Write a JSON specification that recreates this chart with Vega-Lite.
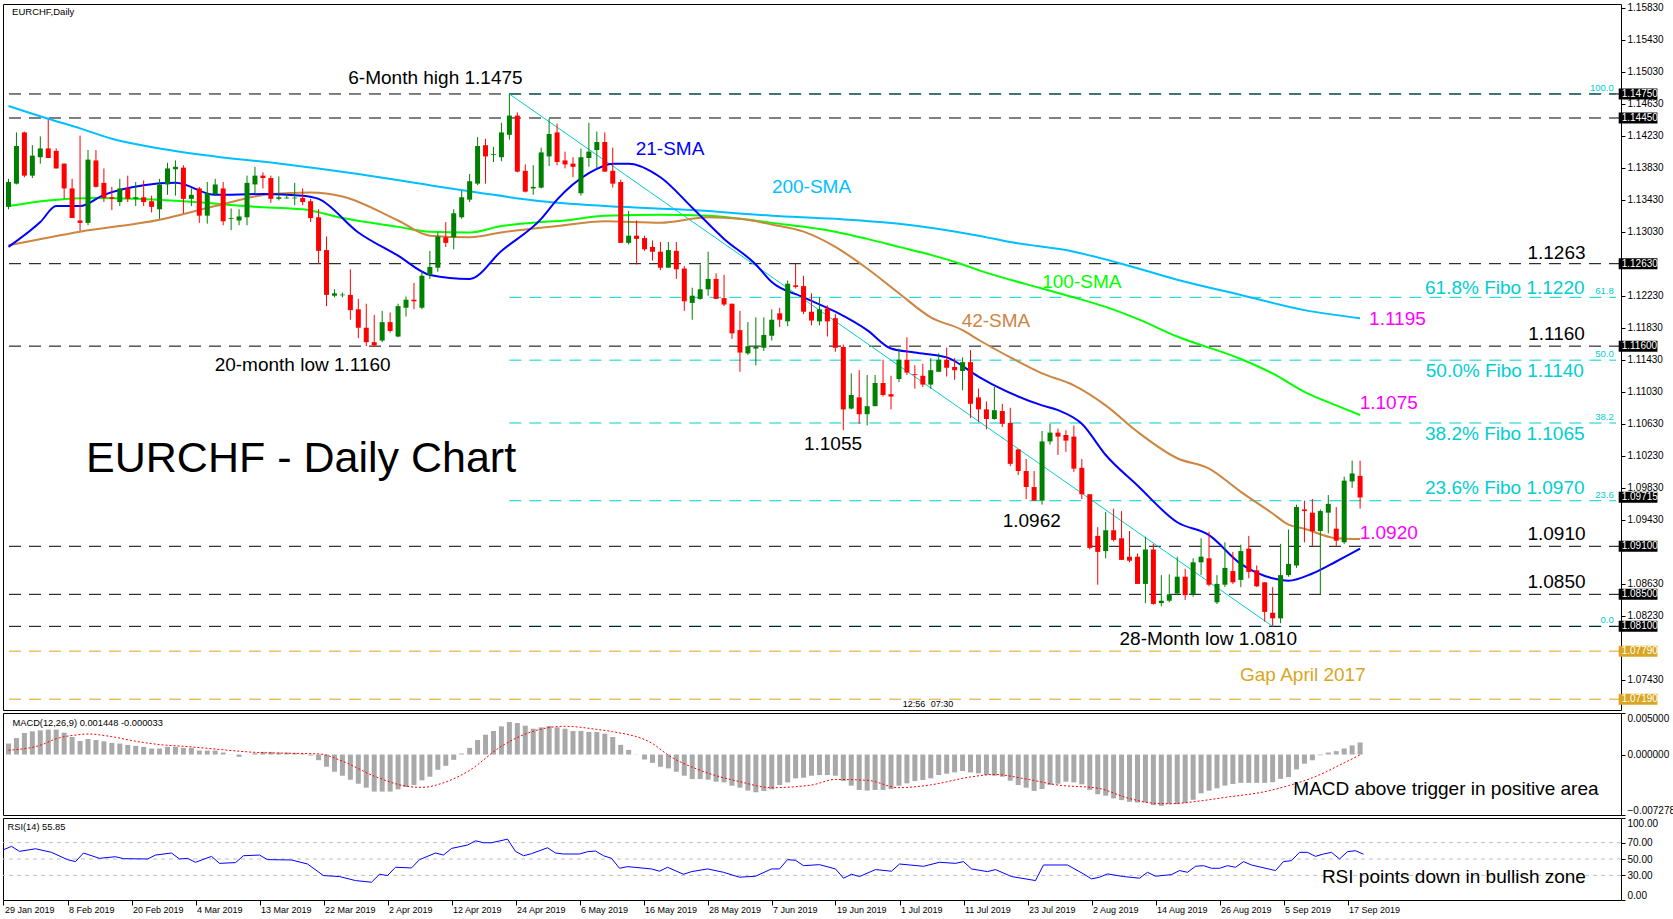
{
"$schema": "https://vega.github.io/schema/vega-lite/v6.json",
"background": "#ffffff",
"padding": {"left": 2, "top": 2, "right": 0, "bottom": 0},
"spacing": 3,
"bounds": "flush",
"config": {
  "view": {"stroke": "#000000", "strokeWidth": 1},
  "font": "Liberation Sans",
  "axis": {"labelFont": "Liberation Sans", "labelColor": "#000000", "tickColor": "#000000", "domain": false, "grid": false}
},
"datasets": {
"c": [
{"i":0,"o":1.1334,"h":1.1369,"l":1.1331,"c":1.1365},
{"i":1,"o":1.1363,"h":1.1427,"l":1.1362,"c":1.1410},
{"i":2,"o":1.1427,"h":1.1428,"l":1.1371,"c":1.1373},
{"i":3,"o":1.1373,"h":1.1411,"l":1.1370,"c":1.1398},
{"i":4,"o":1.1396,"h":1.1422,"l":1.1388,"c":1.1407},
{"i":5,"o":1.1407,"h":1.1443,"l":1.1395,"c":1.1395},
{"i":6,"o":1.1404,"h":1.1407,"l":1.1382,"c":1.1382},
{"i":7,"o":1.1388,"h":1.1388,"l":1.1344,"c":1.1357},
{"i":8,"o":1.1357,"h":1.1369,"l":1.1320,"c":1.1320},
{"i":9,"o":1.1317,"h":1.1423,"l":1.1304,"c":1.1314},
{"i":10,"o":1.1314,"h":1.1405,"l":1.1311,"c":1.1393},
{"i":11,"o":1.1392,"h":1.1405,"l":1.1358,"c":1.1359},
{"i":12,"o":1.1364,"h":1.1382,"l":1.1340,"c":1.1345},
{"i":13,"o":1.1346,"h":1.1359,"l":1.1330,"c":1.1344},
{"i":14,"o":1.1340,"h":1.1369,"l":1.1335,"c":1.1357},
{"i":15,"o":1.1357,"h":1.1373,"l":1.1340,"c":1.1344},
{"i":16,"o":1.1344,"h":1.1365,"l":1.1335,"c":1.1346},
{"i":17,"o":1.1346,"h":1.1367,"l":1.1335,"c":1.1340},
{"i":18,"o":1.1341,"h":1.1348,"l":1.1327,"c":1.1334},
{"i":19,"o":1.1331,"h":1.1369,"l":1.1319,"c":1.1362},
{"i":20,"o":1.1362,"h":1.1389,"l":1.1349,"c":1.1382},
{"i":21,"o":1.1381,"h":1.1392,"l":1.1348,"c":1.1384},
{"i":22,"o":1.1383,"h":1.1386,"l":1.1326,"c":1.1344},
{"i":23,"o":1.1344,"h":1.1357,"l":1.1335,"c":1.1349},
{"i":24,"o":1.1357,"h":1.1359,"l":1.1314,"c":1.1323},
{"i":25,"o":1.1323,"h":1.1365,"l":1.1313,"c":1.1351},
{"i":26,"o":1.1350,"h":1.1369,"l":1.1348,"c":1.1362},
{"i":27,"o":1.1357,"h":1.1365,"l":1.1311,"c":1.1316},
{"i":28,"o":1.1319,"h":1.1332,"l":1.1305,"c":1.1320},
{"i":29,"o":1.1317,"h":1.1331,"l":1.1311,"c":1.1322},
{"i":30,"o":1.1321,"h":1.1373,"l":1.1311,"c":1.1364},
{"i":31,"o":1.1362,"h":1.1384,"l":1.1351,"c":1.1373},
{"i":32,"o":1.1373,"h":1.1377,"l":1.1357,"c":1.1370},
{"i":33,"o":1.1370,"h":1.1373,"l":1.1339,"c":1.1344},
{"i":34,"o":1.1344,"h":1.1372,"l":1.1342,"c":1.1346},
{"i":35,"o":1.1345,"h":1.1350,"l":1.1344,"c":1.1345},
{"i":36,"o":1.1345,"h":1.1364,"l":1.1336,"c":1.1345},
{"i":37,"o":1.1345,"h":1.1357,"l":1.1336,"c":1.1340},
{"i":38,"o":1.1341,"h":1.1344,"l":1.1315,"c":1.1320},
{"i":39,"o":1.1321,"h":1.1331,"l":1.1263,"c":1.1279},
{"i":40,"o":1.1280,"h":1.1297,"l":1.1210,"c":1.1224},
{"i":41,"o":1.1223,"h":1.1231,"l":1.1221,"c":1.1226},
{"i":42,"o":1.1224,"h":1.1227,"l":1.1221,"c":1.1224},
{"i":43,"o":1.1224,"h":1.1256,"l":1.1193,"c":1.1205},
{"i":44,"o":1.1206,"h":1.1219,"l":1.1170,"c":1.1183},
{"i":45,"o":1.1183,"h":1.1213,"l":1.1160,"c":1.1165},
{"i":46,"o":1.1165,"h":1.1199,"l":1.1159,"c":1.1161},
{"i":47,"o":1.1167,"h":1.1204,"l":1.1165,"c":1.1190},
{"i":48,"o":1.1190,"h":1.1202,"l":1.1177,"c":1.1179},
{"i":49,"o":1.1172,"h":1.1213,"l":1.1171,"c":1.1210},
{"i":50,"o":1.1208,"h":1.1222,"l":1.1197,"c":1.1218},
{"i":51,"o":1.1218,"h":1.1239,"l":1.1206,"c":1.1216},
{"i":52,"o":1.1208,"h":1.1254,"l":1.1206,"c":1.1248},
{"i":53,"o":1.1249,"h":1.1279,"l":1.1244,"c":1.1259},
{"i":54,"o":1.1258,"h":1.1302,"l":1.1253,"c":1.1297},
{"i":55,"o":1.1296,"h":1.1315,"l":1.1284,"c":1.1289},
{"i":56,"o":1.1296,"h":1.1331,"l":1.1281,"c":1.1326},
{"i":57,"o":1.1321,"h":1.1354,"l":1.1319,"c":1.1346},
{"i":58,"o":1.1343,"h":1.1375,"l":1.1340,"c":1.1366},
{"i":59,"o":1.1363,"h":1.1421,"l":1.1361,"c":1.1410},
{"i":60,"o":1.1411,"h":1.1419,"l":1.1363,"c":1.1397},
{"i":61,"o":1.1399,"h":1.1409,"l":1.1390,"c":1.1400},
{"i":62,"o":1.1396,"h":1.1439,"l":1.1391,"c":1.1427},
{"i":63,"o":1.1424,"h":1.1475,"l":1.1418,"c":1.1448},
{"i":64,"o":1.1448,"h":1.1452,"l":1.1377,"c":1.1378},
{"i":65,"o":1.1379,"h":1.1387,"l":1.1352,"c":1.1353},
{"i":66,"o":1.1357,"h":1.1386,"l":1.1349,"c":1.1359},
{"i":67,"o":1.1358,"h":1.1408,"l":1.1357,"c":1.1402},
{"i":68,"o":1.1397,"h":1.1444,"l":1.1385,"c":1.1425},
{"i":69,"o":1.1427,"h":1.1438,"l":1.1386,"c":1.1390},
{"i":70,"o":1.1392,"h":1.1403,"l":1.1382,"c":1.1387},
{"i":71,"o":1.1388,"h":1.1396,"l":1.1371,"c":1.1384},
{"i":72,"o":1.1351,"h":1.1407,"l":1.1348,"c":1.1396},
{"i":73,"o":1.1395,"h":1.1439,"l":1.1384,"c":1.1403},
{"i":74,"o":1.1405,"h":1.1428,"l":1.1382,"c":1.1415},
{"i":75,"o":1.1415,"h":1.1427,"l":1.1378,"c":1.1378},
{"i":76,"o":1.1379,"h":1.1408,"l":1.1358,"c":1.1363},
{"i":77,"o":1.1365,"h":1.1368,"l":1.1289,"c":1.1289},
{"i":78,"o":1.1289,"h":1.1329,"l":1.1287,"c":1.1298},
{"i":79,"o":1.1298,"h":1.1317,"l":1.1262,"c":1.1294},
{"i":80,"o":1.1295,"h":1.1298,"l":1.1279,"c":1.1281},
{"i":81,"o":1.1284,"h":1.1292,"l":1.1267,"c":1.1278},
{"i":82,"o":1.1278,"h":1.1290,"l":1.1255,"c":1.1258},
{"i":83,"o":1.1258,"h":1.1290,"l":1.1258,"c":1.1280},
{"i":84,"o":1.1279,"h":1.1290,"l":1.1244,"c":1.1256},
{"i":85,"o":1.1257,"h":1.1260,"l":1.1204,"c":1.1216},
{"i":86,"o":1.1214,"h":1.1233,"l":1.1193,"c":1.1223},
{"i":87,"o":1.1219,"h":1.1262,"l":1.1218,"c":1.1231},
{"i":88,"o":1.1231,"h":1.1278,"l":1.1223,"c":1.1244},
{"i":89,"o":1.1244,"h":1.1251,"l":1.1219,"c":1.1219},
{"i":90,"o":1.1220,"h":1.1249,"l":1.1210,"c":1.1212},
{"i":91,"o":1.1213,"h":1.1213,"l":1.1169,"c":1.1176},
{"i":92,"o":1.1180,"h":1.1204,"l":1.1128,"c":1.1152},
{"i":93,"o":1.1151,"h":1.1190,"l":1.1149,"c":1.1160},
{"i":94,"o":1.1157,"h":1.1196,"l":1.1136,"c":1.1159},
{"i":95,"o":1.1158,"h":1.1196,"l":1.1154,"c":1.1174},
{"i":96,"o":1.1173,"h":1.1206,"l":1.1167,"c":1.1193},
{"i":97,"o":1.1201,"h":1.1208,"l":1.1184,"c":1.1193},
{"i":98,"o":1.1191,"h":1.1242,"l":1.1185,"c":1.1238},
{"i":99,"o":1.1236,"h":1.1263,"l":1.1232,"c":1.1234},
{"i":100,"o":1.1235,"h":1.1248,"l":1.1200,"c":1.1203},
{"i":101,"o":1.1203,"h":1.1226,"l":1.1186,"c":1.1192},
{"i":102,"o":1.1191,"h":1.1221,"l":1.1186,"c":1.1206},
{"i":103,"o":1.1207,"h":1.1211,"l":1.1172,"c":1.1191},
{"i":104,"o":1.1195,"h":1.1200,"l":1.1153,"c":1.1158},
{"i":105,"o":1.1159,"h":1.1162,"l":1.1055,"c":1.1081},
{"i":106,"o":1.1082,"h":1.1126,"l":1.1081,"c":1.1099},
{"i":107,"o":1.1096,"h":1.1130,"l":1.1063,"c":1.1075},
{"i":108,"o":1.1075,"h":1.1124,"l":1.1061,"c":1.1085},
{"i":109,"o":1.1085,"h":1.1124,"l":1.1085,"c":1.1114},
{"i":110,"o":1.1114,"h":1.1143,"l":1.1097,"c":1.1099},
{"i":111,"o":1.1100,"h":1.1123,"l":1.1081,"c":1.1097},
{"i":112,"o":1.1119,"h":1.1157,"l":1.1115,"c":1.1143},
{"i":113,"o":1.1143,"h":1.1171,"l":1.1124,"c":1.1127},
{"i":114,"o":1.1125,"h":1.1136,"l":1.1107,"c":1.1124},
{"i":115,"o":1.1123,"h":1.1138,"l":1.1109,"c":1.1112},
{"i":116,"o":1.1112,"h":1.1145,"l":1.1107,"c":1.1130},
{"i":117,"o":1.1128,"h":1.1151,"l":1.1128,"c":1.1143},
{"i":118,"o":1.1143,"h":1.1158,"l":1.1122,"c":1.1133},
{"i":119,"o":1.1134,"h":1.1145,"l":1.1118,"c":1.1130},
{"i":120,"o":1.1129,"h":1.1146,"l":1.1105,"c":1.1140},
{"i":121,"o":1.1140,"h":1.1155,"l":1.1070,"c":1.1088},
{"i":122,"o":1.1096,"h":1.1107,"l":1.1065,"c":1.1081},
{"i":123,"o":1.1081,"h":1.1091,"l":1.1056,"c":1.1069},
{"i":124,"o":1.1069,"h":1.1109,"l":1.1068,"c":1.1080},
{"i":125,"o":1.1079,"h":1.1088,"l":1.1059,"c":1.1063},
{"i":126,"o":1.1064,"h":1.1083,"l":1.1010,"c":1.1013},
{"i":127,"o":1.1031,"h":1.1031,"l":1.0999,"c":1.1004},
{"i":128,"o":1.1004,"h":1.1019,"l":1.0969,"c":1.0984},
{"i":129,"o":1.0984,"h":1.1004,"l":1.0967,"c":1.0967},
{"i":130,"o":1.0967,"h":1.1054,"l":1.0962,"c":1.1041},
{"i":131,"o":1.1041,"h":1.1063,"l":1.1037,"c":1.1052},
{"i":132,"o":1.1052,"h":1.1057,"l":1.1024,"c":1.1047},
{"i":133,"o":1.1049,"h":1.1055,"l":1.1028,"c":1.1042},
{"i":134,"o":1.1047,"h":1.1061,"l":1.1003,"c":1.1007},
{"i":135,"o":1.1008,"h":1.1019,"l":1.0969,"c":1.0975},
{"i":136,"o":1.0975,"h":1.0975,"l":1.0906,"c":1.0908},
{"i":137,"o":1.0923,"h":1.0934,"l":1.0862,"c":1.0903},
{"i":138,"o":1.0904,"h":1.0953,"l":1.0895,"c":1.0930},
{"i":139,"o":1.0930,"h":1.0957,"l":1.0916,"c":1.0918},
{"i":140,"o":1.0920,"h":1.0954,"l":1.0893,"c":1.0893},
{"i":141,"o":1.0897,"h":1.0929,"l":1.0890,"c":1.0892},
{"i":142,"o":1.0897,"h":1.0901,"l":1.0863,"c":1.0863},
{"i":143,"o":1.0863,"h":1.0922,"l":1.0839,"c":1.0906},
{"i":144,"o":1.0906,"h":1.0913,"l":1.0837,"c":1.0838},
{"i":145,"o":1.0839,"h":1.0874,"l":1.0835,"c":1.0842},
{"i":146,"o":1.0842,"h":1.0875,"l":1.0840,"c":1.0850},
{"i":147,"o":1.0851,"h":1.0897,"l":1.0849,"c":1.0872},
{"i":148,"o":1.0872,"h":1.0882,"l":1.0843,"c":1.0849},
{"i":149,"o":1.0850,"h":1.0895,"l":1.0847,"c":1.0890},
{"i":150,"o":1.0890,"h":1.0920,"l":1.0874,"c":1.0897},
{"i":151,"o":1.0895,"h":1.0928,"l":1.0860,"c":1.0862},
{"i":152,"o":1.0840,"h":1.0874,"l":1.0838,"c":1.0863},
{"i":153,"o":1.0862,"h":1.0915,"l":1.0859,"c":1.0883},
{"i":154,"o":1.0879,"h":1.0903,"l":1.0863,"c":1.0865},
{"i":155,"o":1.0868,"h":1.0912,"l":1.0859,"c":1.0904},
{"i":156,"o":1.0907,"h":1.0923,"l":1.0870,"c":1.0878},
{"i":157,"o":1.0880,"h":1.0886,"l":1.0859,"c":1.0860},
{"i":158,"o":1.0865,"h":1.0865,"l":1.0816,"c":1.0828},
{"i":159,"o":1.0827,"h":1.0859,"l":1.0810,"c":1.0820},
{"i":160,"o":1.0820,"h":1.0913,"l":1.0814,"c":1.0874},
{"i":161,"o":1.0874,"h":1.0931,"l":1.0872,"c":1.0888},
{"i":162,"o":1.0886,"h":1.0962,"l":1.0883,"c":1.0959},
{"i":163,"o":1.0956,"h":1.0967,"l":1.0915,"c":1.0954},
{"i":164,"o":1.0952,"h":1.0969,"l":1.0910,"c":1.0929},
{"i":165,"o":1.0929,"h":1.0956,"l":1.0850,"c":1.0954},
{"i":166,"o":1.0952,"h":1.0974,"l":1.0926,"c":1.0963},
{"i":167,"o":1.0932,"h":1.0959,"l":1.0910,"c":1.0917},
{"i":168,"o":1.0915,"h":1.0997,"l":1.0913,"c":1.0992},
{"i":169,"o":1.0991,"h":1.1017,"l":1.0983,"c":1.1001},
{"i":170,"o":1.0998,"h":1.1017,"l":1.0957,"c":1.0971}
],
"ma": [
{"s":"200-SMA","i":0,"v":1.1460},{"s":"200-SMA","i":5,"v":1.1444},{"s":"200-SMA","i":9,"v":1.1432},{"s":"200-SMA","i":13,"v":1.1419},{"s":"200-SMA","i":19,"v":1.1407},{"s":"200-SMA","i":26,"v":1.1397},{"s":"200-SMA","i":35,"v":1.1387},{"s":"200-SMA","i":44,"v":1.1375},{"s":"200-SMA","i":53,"v":1.1361},{"s":"200-SMA","i":59,"v":1.1352},{"s":"200-SMA","i":67,"v":1.1341},{"s":"200-SMA","i":77,"v":1.1334},{"s":"200-SMA","i":86,"v":1.1330},{"s":"200-SMA","i":96,"v":1.1323},{"s":"200-SMA","i":104,"v":1.1319},{"s":"200-SMA","i":112,"v":1.1313},{"s":"200-SMA","i":122,"v":1.1298},{"s":"200-SMA","i":126,"v":1.1290},{"s":"200-SMA","i":134,"v":1.1278},{"s":"200-SMA","i":140,"v":1.1263},{"s":"200-SMA","i":147,"v":1.1243},{"s":"200-SMA","i":155,"v":1.1224},{"s":"200-SMA","i":163,"v":1.1205},{"s":"200-SMA","i":170,"v":1.1195},
{"s":"100-SMA","i":0,"v":1.1335},{"s":"100-SMA","i":5,"v":1.1342},{"s":"100-SMA","i":11,"v":1.1345},{"s":"100-SMA","i":22,"v":1.1341},{"s":"100-SMA","i":31,"v":1.1334},{"s":"100-SMA","i":37,"v":1.1331},{"s":"100-SMA","i":42,"v":1.1320},{"s":"100-SMA","i":49,"v":1.1309},{"s":"100-SMA","i":53,"v":1.1303},{"s":"100-SMA","i":58,"v":1.1302},{"s":"100-SMA","i":62,"v":1.1310},{"s":"100-SMA","i":67,"v":1.1315},{"s":"100-SMA","i":70,"v":1.1317},{"s":"100-SMA","i":75,"v":1.1323},{"s":"100-SMA","i":82,"v":1.1324},{"s":"100-SMA","i":88,"v":1.1323},{"s":"100-SMA","i":96,"v":1.1314},{"s":"100-SMA","i":104,"v":1.1303},{"s":"100-SMA","i":108,"v":1.1294},{"s":"100-SMA","i":112,"v":1.1284},{"s":"100-SMA","i":116,"v":1.1274},{"s":"100-SMA","i":120,"v":1.1262},{"s":"100-SMA","i":122,"v":1.1255},{"s":"100-SMA","i":130,"v":1.1232},{"s":"100-SMA","i":134,"v":1.1221},{"s":"100-SMA","i":138,"v":1.1209},{"s":"100-SMA","i":142,"v":1.1194},{"s":"100-SMA","i":147,"v":1.1172},{"s":"100-SMA","i":155,"v":1.1144},{"s":"100-SMA","i":159,"v":1.1126},{"s":"100-SMA","i":163,"v":1.1103},{"s":"100-SMA","i":167,"v":1.1086},{"s":"100-SMA","i":170,"v":1.1074},
{"s":"42-SMA","i":0,"v":1.1286},{"s":"42-SMA","i":9,"v":1.1303},{"s":"42-SMA","i":19,"v":1.1318},{"s":"42-SMA","i":26,"v":1.1335},{"s":"42-SMA","i":33,"v":1.1350},{"s":"42-SMA","i":38,"v":1.1352},{"s":"42-SMA","i":42,"v":1.1347},{"s":"42-SMA","i":49,"v":1.1317},{"s":"42-SMA","i":53,"v":1.1298},{"s":"42-SMA","i":58,"v":1.1296},{"s":"42-SMA","i":62,"v":1.1302},{"s":"42-SMA","i":69,"v":1.1310},{"s":"42-SMA","i":75,"v":1.1316},{"s":"42-SMA","i":82,"v":1.1314},{"s":"42-SMA","i":88,"v":1.1321},{"s":"42-SMA","i":92,"v":1.1319},{"s":"42-SMA","i":96,"v":1.1312},{"s":"42-SMA","i":100,"v":1.1303},{"s":"42-SMA","i":104,"v":1.1284},{"s":"42-SMA","i":108,"v":1.1257},{"s":"42-SMA","i":112,"v":1.1226},{"s":"42-SMA","i":116,"v":1.1196},{"s":"42-SMA","i":120,"v":1.1180},{"s":"42-SMA","i":122,"v":1.1168},{"s":"42-SMA","i":126,"v":1.1146},{"s":"42-SMA","i":130,"v":1.1126},{"s":"42-SMA","i":134,"v":1.1111},{"s":"42-SMA","i":138,"v":1.1086},{"s":"42-SMA","i":142,"v":1.1053},{"s":"42-SMA","i":147,"v":1.1020},{"s":"42-SMA","i":151,"v":1.1007},{"s":"42-SMA","i":155,"v":1.0978},{"s":"42-SMA","i":159,"v":1.0951},{"s":"42-SMA","i":161,"v":1.0937},{"s":"42-SMA","i":163,"v":1.0932},{"s":"42-SMA","i":167,"v":1.0920},{"s":"42-SMA","i":170,"v":1.0919},
{"s":"21-SMA","i":0,"v":1.1284},{"s":"21-SMA","i":4,"v":1.1315},{"s":"21-SMA","i":6,"v":1.1335},{"s":"21-SMA","i":9,"v":1.1335},{"s":"21-SMA","i":12,"v":1.1349},{"s":"21-SMA","i":17,"v":1.1361},{"s":"21-SMA","i":21,"v":1.1364},{"s":"21-SMA","i":26,"v":1.1349},{"s":"21-SMA","i":32,"v":1.1350},{"s":"21-SMA","i":37,"v":1.1348},{"s":"21-SMA","i":39,"v":1.1344},{"s":"21-SMA","i":44,"v":1.1302},{"s":"21-SMA","i":49,"v":1.1273},{"s":"21-SMA","i":53,"v":1.1249},{"s":"21-SMA","i":58,"v":1.1244},{"s":"21-SMA","i":62,"v":1.1279},{"s":"21-SMA","i":67,"v":1.1319},{"s":"21-SMA","i":69,"v":1.1343},{"s":"21-SMA","i":73,"v":1.1376},{"s":"21-SMA","i":76,"v":1.1388},{"s":"21-SMA","i":78,"v":1.1388},{"s":"21-SMA","i":82,"v":1.1371},{"s":"21-SMA","i":86,"v":1.1333},{"s":"21-SMA","i":90,"v":1.1294},{"s":"21-SMA","i":94,"v":1.1262},{"s":"21-SMA","i":96,"v":1.1240},{"s":"21-SMA","i":100,"v":1.1221},{"s":"21-SMA","i":104,"v":1.1203},{"s":"21-SMA","i":108,"v":1.1180},{"s":"21-SMA","i":111,"v":1.1157},{"s":"21-SMA","i":114,"v":1.1152},{"s":"21-SMA","i":118,"v":1.1146},{"s":"21-SMA","i":122,"v":1.1122},{"s":"21-SMA","i":124,"v":1.1111},{"s":"21-SMA","i":130,"v":1.1086},{"s":"21-SMA","i":132,"v":1.1080},{"s":"21-SMA","i":135,"v":1.1063},{"s":"21-SMA","i":138,"v":1.1024},{"s":"21-SMA","i":142,"v":1.0986},{"s":"21-SMA","i":147,"v":1.0940},{"s":"21-SMA","i":151,"v":1.0924},{"s":"21-SMA","i":155,"v":1.0888},{"s":"21-SMA","i":159,"v":1.0870},{"s":"21-SMA","i":161,"v":1.0867},{"s":"21-SMA","i":164,"v":1.0876},{"s":"21-SMA","i":167,"v":1.0891},{"s":"21-SMA","i":170,"v":1.0907}
],
"m": [
{"i":0,"v":0.00132},{"i":1,"v":0.00199},{"i":2,"v":0.00259},{"i":3,"v":0.00279},{"i":4,"v":0.00291},{"i":5,"v":0.00300},{"i":6,"v":0.00300},{"i":7,"v":0.00263},{"i":8,"v":0.00211},{"i":9,"v":0.00163},
{"i":10,"v":0.00187},{"i":11,"v":0.00175},{"i":12,"v":0.00159},{"i":13,"v":0.00140},{"i":14,"v":0.00132},{"i":15,"v":0.00116},{"i":16,"v":0.00104},{"i":17,"v":0.00092},{"i":18,"v":0.00072},{"i":19,"v":0.00072},
{"i":20,"v":0.00092},{"i":21,"v":0.00092},{"i":22,"v":0.00080},{"i":23,"v":0.00080},{"i":24,"v":0.00048},{"i":25,"v":0.00048},{"i":26,"v":0.00048},{"i":27,"v":0.00024},{"i":28,"v":0.00002},{"i":29,"v":-0.00028},
{"i":30,"v":0.00002},{"i":31,"v":0.00016},{"i":32,"v":0.00032},{"i":33,"v":0.00032},{"i":34,"v":0.00024},{"i":35,"v":0.00024},{"i":36,"v":0.00020},{"i":37,"v":0.00008},{"i":38,"v":-0.00012},{"i":39,"v":-0.00068},
{"i":40,"v":-0.00147},{"i":41,"v":-0.00207},{"i":42,"v":-0.00255},{"i":43,"v":-0.00303},{"i":44,"v":-0.00351},{"i":45,"v":-0.00399},{"i":46,"v":-0.00446},{"i":47,"v":-0.00446},{"i":48,"v":-0.00446},{"i":49,"v":-0.00419},
{"i":50,"v":-0.00391},{"i":51,"v":-0.00367},{"i":52,"v":-0.00311},{"i":53,"v":-0.00267},{"i":54,"v":-0.00183},{"i":55,"v":-0.00136},{"i":56,"v":-0.00064},{"i":57,"v":0.00012},{"i":58,"v":0.00080},{"i":59,"v":0.00175},
{"i":60,"v":0.00239},{"i":61,"v":0.00283},{"i":62,"v":0.00339},{"i":63,"v":0.00391},{"i":64,"v":0.00379},{"i":65,"v":0.00347},{"i":66,"v":0.00311},{"i":67,"v":0.00327},{"i":68,"v":0.00343},{"i":69,"v":0.00327},
{"i":70,"v":0.00311},{"i":71,"v":0.00283},{"i":72,"v":0.00283},{"i":73,"v":0.00271},{"i":74,"v":0.00271},{"i":75,"v":0.00251},{"i":76,"v":0.00211},{"i":77,"v":0.00116},{"i":78,"v":0.00056},{"i":79,"v":0.00002},
{"i":80,"v":-0.00060},{"i":81,"v":-0.00100},{"i":82,"v":-0.00147},{"i":83,"v":-0.00167},{"i":84,"v":-0.00207},{"i":85,"v":-0.00255},{"i":86,"v":-0.00295},{"i":87,"v":-0.00295},{"i":88,"v":-0.00303},{"i":89,"v":-0.00327},
{"i":90,"v":-0.00335},{"i":91,"v":-0.00375},{"i":92,"v":-0.00399},{"i":93,"v":-0.00434},{"i":94,"v":-0.00454},{"i":95,"v":-0.00438},{"i":96,"v":-0.00419},{"i":97,"v":-0.00367},{"i":98,"v":-0.00335},{"i":99,"v":-0.00287},
{"i":100,"v":-0.00279},{"i":101,"v":-0.00255},{"i":102,"v":-0.00247},{"i":103,"v":-0.00247},{"i":104,"v":-0.00255},{"i":105,"v":-0.00319},{"i":106,"v":-0.00375},{"i":107,"v":-0.00426},{"i":108,"v":-0.00434},{"i":109,"v":-0.00426},
{"i":110,"v":-0.00426},{"i":111,"v":-0.00415},{"i":112,"v":-0.00375},{"i":113,"v":-0.00347},{"i":114,"v":-0.00319},{"i":115,"v":-0.00307},{"i":116,"v":-0.00287},{"i":117,"v":-0.00247},{"i":118,"v":-0.00231},{"i":119,"v":-0.00215},
{"i":120,"v":-0.00199},{"i":121,"v":-0.00215},{"i":122,"v":-0.00227},{"i":123,"v":-0.00247},{"i":124,"v":-0.00255},{"i":125,"v":-0.00267},{"i":126,"v":-0.00315},{"i":127,"v":-0.00367},{"i":128,"v":-0.00399},{"i":129,"v":-0.00438},
{"i":130,"v":-0.00415},{"i":131,"v":-0.00367},{"i":132,"v":-0.00351},{"i":133,"v":-0.00327},{"i":134,"v":-0.00335},{"i":135,"v":-0.00359},{"i":136,"v":-0.00426},{"i":137,"v":-0.00478},{"i":138,"v":-0.00496},{"i":139,"v":-0.00528},
{"i":140,"v":-0.00549},{"i":141,"v":-0.00569},{"i":142,"v":-0.00577},{"i":143,"v":-0.00577},{"i":144,"v":-0.00610},{"i":145,"v":-0.00618},{"i":146,"v":-0.00598},{"i":147,"v":-0.00598},{"i":148,"v":-0.00585},{"i":149,"v":-0.00545},
{"i":150,"v":-0.00467},{"i":151,"v":-0.00435},{"i":152,"v":-0.00407},{"i":153,"v":-0.00374},{"i":154,"v":-0.00354},{"i":155,"v":-0.00341},{"i":156,"v":-0.00341},{"i":157,"v":-0.00341},{"i":158,"v":-0.00341},{"i":159,"v":-0.00333},
{"i":160,"v":-0.00293},{"i":161,"v":-0.00272},{"i":162,"v":-0.00179},{"i":163,"v":-0.00110},{"i":164,"v":-0.00069},{"i":165,"v":-0.00008},{"i":166,"v":0.00024},{"i":167,"v":0.00041},{"i":168,"v":0.00073},{"i":169,"v":0.00110},
{"i":170,"v":0.001448}
],
"sg": [
{"i":0,"v":0.00052},{"i":4,"v":0.00112},{"i":6,"v":0.00190},{"i":9,"v":0.00240},{"i":10,"v":0.00247},{"i":13,"v":0.00215},{"i":16,"v":0.00160},{"i":19,"v":0.00120},{"i":23,"v":0.00092},{"i":26,"v":0.00066},{"i":29,"v":0.00040},{"i":31,"v":0.00026},{"i":35,"v":0.00016},{"i":39,"v":0.00008},{"i":42,"v":-0.00080},{"i":46,"v":-0.00260},{"i":50,"v":-0.00380},{"i":52,"v":-0.00395},{"i":55,"v":-0.00330},{"i":58,"v":-0.00190},{"i":62,"v":0.00100},{"i":66,"v":0.00280},{"i":70,"v":0.00340},{"i":74,"v":0.00303},{"i":76,"v":0.00275},{"i":81,"v":0.00132},{"i":83,"v":-0.00008},{"i":87,"v":-0.00190},{"i":92,"v":-0.00327},{"i":96,"v":-0.00399},{"i":101,"v":-0.00367},{"i":104,"v":-0.00300},{"i":108,"v":-0.00310},{"i":112,"v":-0.00399},{"i":116,"v":-0.00365},{"i":121,"v":-0.00270},{"i":124,"v":-0.00240},{"i":128,"v":-0.00295},{"i":132,"v":-0.00367},{"i":137,"v":-0.00405},{"i":141,"v":-0.00530},{"i":144,"v":-0.00585},{"i":146,"v":-0.00592},{"i":150,"v":-0.00557},{"i":153,"v":-0.00516},{"i":158,"v":-0.00447},{"i":161,"v":-0.00374},{"i":164,"v":-0.00280},{"i":168,"v":-0.00100},{"i":170,"v":-0.000033}
],
"r": [
{"i":0,"v":61.3},{"i":1,"v":65.4},{"i":2,"v":59.3},{"i":4,"v":62.5},{"i":6,"v":58.1},{"i":8,"v":49.2},{"i":9,"v":46.8},{"i":10,"v":57.3},{"i":12,"v":50.8},{"i":14,"v":52.8},{"i":15,"v":50.4},{"i":18,"v":50.0},{"i":19,"v":54.8},{"i":21,"v":57.3},{"i":22,"v":50.0},{"i":23,"v":50.8},{"i":24,"v":46.0},{"i":26,"v":53.2},{"i":27,"v":44.7},{"i":29,"v":45.6},{"i":30,"v":54.0},{"i":32,"v":54.8},{"i":33,"v":49.2},{"i":36,"v":48.8},{"i":38,"v":43.9},{"i":40,"v":29.8},{"i":42,"v":28.6},{"i":44,"v":23.7},{"i":46,"v":21.7},{"i":47,"v":31.4},{"i":48,"v":29.8},{"i":49,"v":39.9},{"i":51,"v":39.1},{"i":52,"v":49.2},{"i":54,"v":57.3},{"i":55,"v":54.8},{"i":56,"v":62.9},{"i":58,"v":67.0},{"i":59,"v":72.2},{"i":60,"v":69.8},{"i":61,"v":69.8},{"i":63,"v":74.2},{"i":64,"v":59.3},{"i":65,"v":54.0},{"i":66,"v":56.5},{"i":68,"v":63.7},{"i":69,"v":57.3},
{"i":70,"v":56.1},{"i":72,"v":56.1},{"i":73,"v":58.9},{"i":74,"v":59.7},{"i":75,"v":54.0},{"i":76,"v":50.8},{"i":77,"v":38.7},{"i":78,"v":40.7},{"i":81,"v":37.9},{"i":82,"v":35.1},{"i":83,"v":39.9},{"i":85,"v":31.4},{"i":86,"v":34.6},{"i":88,"v":37.9},{"i":90,"v":33.8},{"i":92,"v":27.8},{"i":94,"v":29.0},{"i":96,"v":37.9},{"i":97,"v":37.9},{"i":98,"v":49.2},{"i":99,"v":48.4},{"i":100,"v":41.9},{"i":102,"v":43.1},{"i":104,"v":37.9},{"i":105,"v":26.6},{"i":106,"v":31.4},{"i":107,"v":28.6},{"i":109,"v":37.1},{"i":111,"v":35.1},{"i":112,"v":43.9},{"i":115,"v":41.1},{"i":117,"v":46.0},{"i":119,"v":44.7},{"i":120,"v":46.8},{"i":121,"v":37.9},{"i":123,"v":34.6},{"i":124,"v":37.1},{"i":126,"v":28.6},{"i":129,"v":23.7},{"i":130,"v":42.7},{"i":133,"v":42.7},{"i":135,"v":31.8},{"i":136,"v":25.8},{"i":137,"v":27.8},{"i":138,"v":31.8},{"i":140,"v":28.6},{"i":142,"v":26.6},{"i":143,"v":33.8},{"i":144,"v":29.0},{"i":146,"v":31.0},{"i":147,"v":35.9},{"i":148,"v":33.8},{"i":149,"v":41.1},{"i":150,"v":41.9},{"i":151,"v":38.7},{"i":152,"v":38.7},{"i":153,"v":41.9},{"i":154,"v":39.9},{"i":155,"v":46.8},{"i":156,"v":42.7},{"i":159,"v":35.9},{"i":160,"v":46.8},{"i":161,"v":48.0},{"i":162,"v":58.1},{"i":163,"v":58.1},{"i":164,"v":53.2},{"i":165,"v":56.1},{"i":166,"v":58.1},{"i":167,"v":50.0},{"i":168,"v":58.9},{"i":169,"v":60.1},{"i":170,"v":55.85}
],
"notes": [
{"t":"6-Month high 1.1475","i":53.7,"p":1.1495,"g":"note"},
{"t":"21-SMA","i":83.2,"p":1.1406,"g":"21-SMA"},
{"t":"200-SMA","i":101,"p":1.1359,"g":"200-SMA"},
{"t":"100-SMA","i":135,"p":1.1240,"g":"100-SMA"},
{"t":"42-SMA","i":124.2,"p":1.1191,"g":"42-SMA"},
{"t":"1.1263","i":194.7,"p":1.1276,"g":"note"},
{"t":"61.8% Fibo 1.1220","i":188.2,"p":1.1233,"g":"fibo"},
{"t":"1.1195","i":174.7,"p":1.1194,"g":"value"},
{"t":"1.1160","i":194.7,"p":1.1175,"g":"note"},
{"t":"20-month low 1.1160","i":37,"p":1.1136,"g":"note"},
{"t":"50.0% Fibo 1.1140","i":188.2,"p":1.1129,"g":"fibo"},
{"t":"1.1075","i":173.6,"p":1.1089,"g":"value"},
{"t":"38.2% Fibo 1.1065","i":188.2,"p":1.1050,"g":"fibo"},
{"t":"1.1055","i":103.7,"p":1.1038,"g":"note"},
{"t":"23.6% Fibo 1.0970","i":188.2,"p":1.0983,"g":"fibo"},
{"t":"1.0962","i":128.7,"p":1.0942,"g":"note"},
{"t":"1.0920","i":173.6,"p":1.0927,"g":"value"},
{"t":"1.0910","i":194.7,"p":1.0925,"g":"note"},
{"t":"1.0850","i":194.7,"p":1.0865,"g":"note"},
{"t":"28-Month low 1.0810","i":150.9,"p":1.0794,"g":"note"},
{"t":"Gap April 2017","i":162.8,"p":1.0749,"g":"gap"}
],
"lv": [
{"p":1.1475,"g":"note"},{"p":1.1445,"g":"note"},{"p":1.1263,"g":"note"},{"p":1.1160,"g":"note"},{"p":1.0910,"g":"note"},{"p":1.0850,"g":"note"},{"p":1.0810,"g":"note"},{"p":1.0779,"g":"gap"},{"p":1.0719,"g":"gap"}
],
"fib": [
{"t":"100.0","p":1.1475},{"t":"61.8","p":1.1221},{"t":"50.0","p":1.11425},{"t":"38.2","p":1.1064},{"t":"23.6","p":1.09669},{"t":"0.0","p":1.0810}
],
"tags": [
{"t":"1.14750","p":1.1475,"g":"note"},{"t":"1.14450","p":1.1445,"g":"note"},{"t":"1.12630","p":1.1263,"g":"note"},{"t":"1.11600","p":1.1160,"g":"note"},{"t":"1.09715","p":1.09712,"g":"note"},{"t":"1.09100","p":1.0910,"g":"note"},{"t":"1.08500","p":1.0850,"g":"note"},{"t":"1.08100","p":1.0810,"g":"note"},{"t":"1.07790","p":1.0779,"g":"gap"},{"t":"1.07190","p":1.0719,"g":"gap"}
]
},
"vconcat": [
{
"width": 1618, "height": 706,
"resolve": {"axis": {"x": "independent", "y": "independent"}},
"layer": [
{"data": {"name": "fib"},
 "mark": {"type": "rule", "color": "#00CED1", "strokeWidth": 1, "strokeDash": [12, 8]},
 "encoding": {
  "x": {"datum": 63, "type": "quantitative", "scale": {"domain": [-0.0625, 202.1875], "nice": false, "zero": false}, "axis": null},
  "x2": {"datum": 202.1875},
  "y": {"field": "p", "type": "quantitative", "scale": {"domain": [1.07055, 1.15874], "nice": false, "zero": false},
        "axis": {"orient": "right", "title": null, "values": [1.1583,1.1543,1.1503,1.1463,1.1423,1.1383,1.1343,1.1303,1.1223,1.1183,1.1143,1.1103,1.1063,1.1023,1.0983,1.0943,1.0863,1.0823,1.0743], "format": ".5f", "tickSize": 4, "labelPadding": 2, "labelFontSize": 10}}
 }},
{"data": {"name": "lv"},
 "mark": {"type": "rule", "strokeWidth": 1, "strokeDash": [12, 8]},
 "encoding": {
  "y": {"field": "p", "type": "quantitative", "axis": null},
  "color": {"field": "g", "type": "nominal", "legend": null, "scale": {"domain": ["21-SMA","42-SMA","100-SMA","200-SMA","note","fibo","value","gap"], "range": ["#0000FF","#CD853F","#00FF00","#00BFFF","#000000","#00CED1","#FF00FF","#DAA520"]}}
 }},
{"data": {"values": [{"i1": 63, "p1": 1.1475, "i2": 159, "p2": 1.0810}]},
 "mark": {"type": "rule", "color": "#00CED1", "strokeWidth": 1},
 "encoding": {
  "x": {"field": "i1", "type": "quantitative", "axis": null},
  "x2": {"field": "i2"},
  "y": {"field": "p1", "type": "quantitative", "axis": null},
  "y2": {"field": "p2"}
 }},
{"data": {"name": "ma"},
 "mark": {"type": "line", "strokeWidth": 2, "clip": true, "interpolate": "monotone"},
 "encoding": {
  "x": {"field": "i", "type": "quantitative", "axis": null},
  "y": {"field": "v", "type": "quantitative", "axis": null},
  "color": {"field": "s", "type": "nominal", "legend": null, "scale": {"domain": ["21-SMA","42-SMA","100-SMA","200-SMA","note","fibo","value","gap"], "range": ["#0000FF","#CD853F","#00FF00","#00BFFF","#000000","#00CED1","#FF00FF","#DAA520"]}}
 }},
{"data": {"name": "c"},
 "mark": {"type": "rule", "strokeWidth": 1, "clip": true},
 "encoding": {
  "x": {"field": "i", "type": "quantitative", "axis": null},
  "y": {"field": "l", "type": "quantitative", "axis": null},
  "y2": {"field": "h"},
  "color": {"condition": {"test": "datum.c >= datum.o", "value": "#008000"}, "value": "#FF0000"}
 }},
{"data": {"name": "c"},
 "mark": {"type": "bar", "size": 5, "clip": true, "orient": "vertical"},
 "encoding": {
  "x": {"field": "i", "type": "quantitative", "axis": null},
  "y": {"field": "o", "type": "quantitative", "axis": null},
  "y2": {"field": "c"},
  "color": {"condition": {"test": "datum.c >= datum.o", "value": "#008000"}, "value": "#FF0000"}
 }},
{"data": {"name": "c"},
 "transform": [{"filter": "abs(datum.c - datum.o) < 0.00006"}],
 "mark": {"type": "tick", "orient": "horizontal", "size": 5, "thickness": 1, "clip": true},
 "encoding": {
  "x": {"field": "i", "type": "quantitative", "axis": null},
  "y": {"field": "c", "type": "quantitative", "axis": null},
  "color": {"condition": {"test": "datum.c >= datum.o", "value": "#008000"}, "value": "#FF0000"}
 }},
{"data": {"name": "notes"},
 "mark": {"type": "text", "fontSize": 19, "align": "center", "baseline": "middle", "font": "Liberation Sans"},
 "encoding": {
  "x": {"field": "i", "type": "quantitative", "axis": null},
  "y": {"field": "p", "type": "quantitative", "axis": null},
  "text": {"field": "t"},
  "color": {"field": "g", "type": "nominal", "legend": null, "scale": {"domain": ["21-SMA","42-SMA","100-SMA","200-SMA","note","fibo","value","gap"], "range": ["#0000FF","#CD853F","#00FF00","#00BFFF","#000000","#00CED1","#FF00FF","#DAA520"]}}
 }},
{"data": {"values": [{"t": "EURCHF - Daily Chart", "i": 36.8, "p": 1.1019}]},
 "mark": {"type": "text", "fontSize": 43, "align": "center", "baseline": "middle", "color": "#000000", "font": "Liberation Sans"},
 "encoding": {
  "x": {"field": "i", "type": "quantitative", "axis": null},
  "y": {"field": "p", "type": "quantitative", "axis": null},
  "text": {"field": "t"}
 }},
{"data": {"name": "fib"},
 "mark": {"type": "text", "fontSize": 9.5, "align": "right", "baseline": "bottom", "dy": -1, "color": "#00CED1"},
 "encoding": {
  "x": {"datum": 201.9, "type": "quantitative", "axis": null},
  "y": {"field": "p", "type": "quantitative", "axis": null},
  "text": {"field": "t"}
 }},
{"data": {"name": "tags"},
 "mark": {"type": "rule", "strokeWidth": 11},
 "encoding": {
  "x": {"datum": 202.525, "type": "quantitative", "axis": null},
  "x2": {"datum": 207.4},
  "y": {"field": "p", "type": "quantitative", "axis": null},
  "color": {"field": "g", "type": "nominal", "legend": null, "scale": {"domain": ["21-SMA","42-SMA","100-SMA","200-SMA","note","fibo","value","gap"], "range": ["#0000FF","#CD853F","#00FF00","#00BFFF","#000000","#00CED1","#FF00FF","#DAA520"]}}
 }},
{"data": {"name": "tags"},
 "mark": {"type": "text", "fontSize": 10, "align": "left", "baseline": "middle", "color": "#FFFFFF"},
 "encoding": {
  "x": {"datum": 202.9, "type": "quantitative", "axis": null},
  "y": {"field": "p", "type": "quantitative", "axis": null},
  "text": {"field": "t"}
 }},
{"data": {"values": [{"t": "EURCHF,Daily", "i": 0.45, "p": 1.15774}]},
 "mark": {"type": "text", "fontSize": 9.5, "align": "left", "baseline": "middle", "color": "#000000"},
 "encoding": {
  "x": {"field": "i", "type": "quantitative", "axis": null},
  "y": {"field": "p", "type": "quantitative", "axis": null},
  "text": {"field": "t"}
 }},
{"data": {"values": [{"t": "12:56", "i": 113.9, "p": 1.0713}, {"t": "07:30", "i": 117.4, "p": 1.0713}]},
 "mark": {"type": "text", "fontSize": 9, "align": "center", "baseline": "middle", "color": "#000000"},
 "encoding": {
  "x": {"field": "i", "type": "quantitative", "axis": null},
  "y": {"field": "p", "type": "quantitative", "axis": null},
  "text": {"field": "t"}
 }}
]
},
{
"width": 1618, "height": 102,
"resolve": {"axis": {"x": "independent", "y": "independent"}},
"layer": [
{"data": {"name": "m"},
 "mark": {"type": "bar", "size": 5, "color": "#A9A9A9", "clip": true, "orient": "vertical"},
 "encoding": {
  "x": {"field": "i", "type": "quantitative", "scale": {"domain": [-0.0625, 202.1875], "nice": false, "zero": false}, "axis": null},
  "y": {"field": "v", "type": "quantitative", "scale": {"domain": [-0.007278, 0.005], "nice": false, "zero": false},
        "axis": {"orient": "right", "title": null, "values": [0.005, 0, -0.007278], "format": ".6f", "tickSize": 4, "labelPadding": 2, "labelFontSize": 10, "labelFlush": true}},
  "y2": {"datum": 0}
 }},
{"data": {"name": "sg"},
 "mark": {"type": "line", "color": "#FF0000", "strokeWidth": 1, "strokeDash": [2, 2], "clip": true, "interpolate": "monotone"},
 "encoding": {
  "x": {"field": "i", "type": "quantitative", "axis": null},
  "y": {"field": "v", "type": "quantitative", "axis": null}
 }},
{"data": {"values": [{"t": "MACD(12,26,9) 0.001448 -0.000033", "i": 0.5, "v": 0.00383}]},
 "mark": {"type": "text", "fontSize": 9.3, "align": "left", "baseline": "middle", "color": "#000000"},
 "encoding": {
  "x": {"field": "i", "type": "quantitative", "axis": null},
  "y": {"field": "v", "type": "quantitative", "axis": null},
  "text": {"field": "t"}
 }},
{"data": {"values": [{"t": "MACD above trigger in positive area", "i": 180.8, "v": -0.00412}]},
 "mark": {"type": "text", "fontSize": 19, "align": "center", "baseline": "middle", "color": "#000000"},
 "encoding": {
  "x": {"field": "i", "type": "quantitative", "axis": null},
  "y": {"field": "v", "type": "quantitative", "axis": null},
  "text": {"field": "t"}
 }}
]
},
{
"width": 1618, "height": 82,
"resolve": {"axis": {"x": "independent", "y": "independent"}},
"layer": [
{"data": {"values": [{"v": 70}, {"v": 50}, {"v": 30}]},
 "mark": {"type": "rule", "color": "#C0C0C0", "strokeWidth": 1, "strokeDash": [4, 4]},
 "encoding": {
  "y": {"field": "v", "type": "quantitative", "scale": {"domain": [0, 100], "nice": false, "zero": false},
        "axis": {"orient": "right", "title": null, "values": [100, 70, 50, 30, 0], "format": ".2f", "tickSize": 4, "labelPadding": 2, "labelFontSize": 10, "labelFlush": true}}
 }},
{"data": {"name": "r"},
 "mark": {"type": "line", "color": "#0000FF", "strokeWidth": 1, "clip": true},
 "encoding": {
  "x": {"field": "i", "type": "quantitative", "scale": {"domain": [-0.0625, 202.1875], "nice": false, "zero": false},
        "axis": {"orient": "bottom", "title": null, "values": [0,8,16,24,32,40,48,56,64,72,80,88,96,104,112,120,128,136,144,152,160,168],
                 "labelExpr": "datum.value == 0 ? '29 Jan 2019' : datum.value == 8 ? '8 Feb 2019' : datum.value == 16 ? '20 Feb 2019' : datum.value == 24 ? '4 Mar 2019' : datum.value == 32 ? '13 Mar 2019' : datum.value == 40 ? '22 Mar 2019' : datum.value == 48 ? '2 Apr 2019' : datum.value == 56 ? '12 Apr 2019' : datum.value == 64 ? '24 Apr 2019' : datum.value == 72 ? '6 May 2019' : datum.value == 80 ? '16 May 2019' : datum.value == 88 ? '28 May 2019' : datum.value == 96 ? '7 Jun 2019' : datum.value == 104 ? '19 Jun 2019' : datum.value == 112 ? '1 Jul 2019' : datum.value == 120 ? '11 Jul 2019' : datum.value == 128 ? '23 Jul 2019' : datum.value == 136 ? '2 Aug 2019' : datum.value == 144 ? '14 Aug 2019' : datum.value == 152 ? '26 Aug 2019' : datum.value == 160 ? '5 Sep 2019' : '17 Sep 2019'",
                 "labelAlign": "left", "labelBaseline": "top", "labelFontSize": 9, "tickSize": 5, "labelPadding": 0, "labelOffset": 1, "labelFlush": false}},
  "y": {"field": "v", "type": "quantitative", "axis": null}
 }},
{"data": {"values": [{"t": "RSI(14) 55.85", "i": 0.5, "v": 89.4}]},
 "mark": {"type": "text", "fontSize": 9.3, "align": "left", "baseline": "middle", "color": "#000000"},
 "encoding": {
  "x": {"field": "i", "type": "quantitative", "axis": null},
  "y": {"field": "v", "type": "quantitative", "axis": null},
  "text": {"field": "t"}
 }},
{"data": {"values": [{"t": "RSI points down in bullish zone", "i": 181.3, "v": 28}]},
 "mark": {"type": "text", "fontSize": 19, "align": "center", "baseline": "middle", "color": "#000000"},
 "encoding": {
  "x": {"field": "i", "type": "quantitative", "axis": null},
  "y": {"field": "v", "type": "quantitative", "axis": null},
  "text": {"field": "t"}
 }}
]
}
]
}
